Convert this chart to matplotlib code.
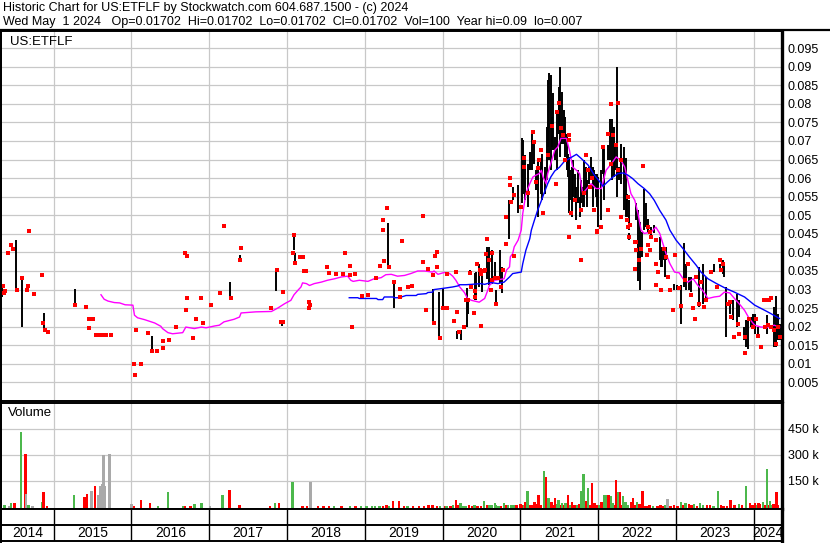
import matplotlib
matplotlib.use("Agg")
import matplotlib.pyplot as plt
from matplotlib.lines import Line2D

plt.rcParams['font.family'] = ['Liberation Sans', 'DejaVu Sans']

# ---------------- text ----------------
title_line1 = "Historic Chart for US:ETFLF by Stockwatch.com 604.687.1500 - (c) 2024"
title_line2 = "Wed May  1 2024   Op=0.01702  Hi=0.01702  Lo=0.01702  Cl=0.01702  Vol=100  Year hi=0.09  lo=0.007"
symbol = "US:ETFLF"
years = [2014, 2015, 2016, 2017, 2018, 2019, 2020, 2021, 2022, 2023, 2024]
x_start, x_end = 2014.325, 2024.361
price_ticks = [0.005, 0.01, 0.015, 0.02, 0.025, 0.03, 0.035, 0.04, 0.045, 0.05,
               0.055, 0.06, 0.065, 0.07, 0.075, 0.08, 0.085, 0.09, 0.095]
vol_ticks_k = [150, 300, 450]

# ---------------- daily high-low bars ----------------
bars_a_dates = [2014.34, 2014.52, 2014.59, 2014.69, 2014.88, 2015.27, 2016.26, 2017.27, 2017.39,
                2017.86, 2017.94, 2018.09, 2018.10, 2019.24, 2019.30, 2019.37, 2019.88, 2019.95]
bars_a_hi = [.0311, .0433, .0333, .0462, .0236, .0301, .0174, .0320, .0392,
             .0355, .0214, .0449, .0398, .0489, .0480, .0320, .0301, .0293]
bars_a_lo = [.0279, .0298, .0198, .0454, .0190, .0258, .0134, .0276, .0379,
             .0295, .0201, .0406, .0370, .0481, .0361, .0250, .0208, .0169]

bars_2020_dates = [2020.00, 2020.19, 2020.24, 2020.31, 2020.32, 2020.35, 2020.42, 2020.43, 2020.47,
                   2020.50, 2020.51, 2020.57, 2020.60, 2020.63, 2020.67, 2020.68, 2020.74, 2020.76,
                   2020.85, 2020.91, 2020.97]
bars_2020_hi = [.0305, .0188, .0192, .0305, .0276, .0352, .0345, .0347, .0370,
                .0343, .0352, .0415, .0415, .0406, .0374, .0298, .0406, .0361,
                .0540, .0576, .0581]
bars_2020_lo = [.0250, .0167, .0165, .0199, .0235, .0340, .0271, .0271, .0306,
                .0293, .0293, .0329, .0311, .0316, .0329, .0262, .0317, .0290,
                .0437, .0540, .0505]

bars_2021_dates = [2021.02, 2021.03, 2021.06, 2021.10, 2021.12, 2021.15, 2021.17, 2021.20, 2021.22, 2021.26,
                   2021.28, 2021.31, 2021.34, 2021.36, 2021.37, 2021.39, 2021.41, 2021.42, 2021.45, 2021.47,
                   2021.49, 2021.50, 2021.51, 2021.54, 2021.56, 2021.57, 2021.60, 2021.61, 2021.63, 2021.64,
                   2021.66, 2021.68, 2021.70, 2021.72, 2021.74, 2021.76, 2021.78, 2021.80, 2021.82, 2021.84,
                   2021.86, 2021.88, 2021.91, 2021.93, 2021.94, 2021.97, 2021.99]
bars_2021_hi = [.0707, .0702, .0662, .0639, .0671, .0724, .0702, .0621, .0648, .0648,
                .0666, .0630, .0738, .0864, .0882, .0877, .0765, .0828, .0711, .0774,
                .0801, .0846, .0900, .0832, .0783, .0765, .0720, .0666, .0657, .0621,
                .0630, .0648, .0612, .0576, .0621, .0549, .0594, .0576, .0648, .0630,
                .0594, .0630, .0657, .0630, .0621, .0612, .0612]
bars_2021_lo = [.0532, .0558, .0540, .0522, .0621, .0621, .0639, .0567, .0495, .0558,
                .0540, .0558, .0594, .0684, .0648, .0621, .0684, .0675, .0648, .0621,
                .0720, .0738, .0657, .0693, .0693, .0657, .0621, .0603, .0505, .0540,
                .0495, .0549, .0540, .0487, .0532, .0495, .0532, .0522, .0522, .0567,
                .0522, .0585, .0603, .0522, .0576, .0549, .0522]

bars_2022_dates = [2022.00, 2022.03, 2022.06, 2022.08, 2022.12, 2022.15, 2022.18, 2022.20, 2022.22, 2022.24,
                   2022.27, 2022.29, 2022.33, 2022.35, 2022.37, 2022.39, 2022.40, 2022.48, 2022.51, 2022.54,
                   2022.56, 2022.59, 2022.61, 2022.64, 2022.68, 2022.71, 2022.79, 2022.80, 2022.82, 2022.84,
                   2022.86, 2022.87, 2022.97]
bars_2022_hi = [.0603, .0621, .0684, .0684, .0689, .0760, .0760, .0738, .0693, .0900,
                .0630, .0693, .0684, .0653, .0558, .0540, .0451, .0532, .0513, .0482,
                .0455, .0572, .0532, .0491, .0468, .0473, .0442, .0406, .0415, .0415,
                .0415, .0415, .0316]
bars_2022_lo = [.0468, .0487, .0612, .0540, .0648, .0648, .0594, .0603, .0621, .0549,
                .0594, .0585, .0513, .0495, .0495, .0460, .0433, .0487, .0324, .0298,
                .0388, .0460, .0468, .0451, .0442, .0451, .0379, .0361, .0361, .0379,
                .0334, .0379, .0298]

bars_2023_dates = [2023.01, 2023.06, 2023.10, 2023.13, 2023.16, 2023.19, 2023.30, 2023.34, 2023.39, 2023.49,
                   2023.57, 2023.60, 2023.62, 2023.64, 2023.69, 2023.73, 2023.78, 2023.81, 2023.87, 2023.90,
                   2023.92, 2023.96, 2023.99, 2024.02, 2024.05, 2024.17, 2024.26, 2024.29, 2024.31, 2024.33]
bars_2023_hi = [.0311, .0311, .0424, .0370, .0334, .0334, .0361, .0370, .0334, .0370,
                .0370, .0379, .0374, .0307, .0271, .0271, .0289, .0271, .0199, .0217,
                .0226, .0226, .0235, .0235, .0199, .0231, .0253, .0283, .0235, .0208]
bars_2023_lo = [.0298, .0208, .0307, .0298, .0298, .0293, .0253, .0262, .0271, .0347,
                .0347, .0343, .0334, .0172, .0235, .0217, .0199, .0226, .0163, .0145,
                .0141, .0199, .0199, .0181, .0172, .0181, .0145, .0145, .0163, .0163]

# ---------------- closing prices (red dots) ----------------
close_a_dates = [2014.34, 2014.35, 2014.36, 2014.38, 2014.41, 2014.45, 2014.48, 2014.53, 2014.59, 2014.66,
                 2014.67, 2014.69, 2014.75, 2014.85, 2014.87, 2014.89, 2014.93, 2015.28, 2015.42, 2015.46,
                 2015.46, 2015.51, 2015.55, 2015.60, 2015.62, 2015.65, 2015.67, 2015.74]
close_a_vals = [.0292, .0309, .0291, .0296, .0398, .0420, .0409, .0298, .0331, .0298,
                .0310, .0458, .0287, .0338, .0210, .0190, .0187, .0258, .0252, .0222,
                .0196, .0222, .0179, .0179, .0179, .0179, .0179, .0179]

close_b_dates = [2016.04, 2016.05, 2016.06, 2016.13, 2016.21, 2016.27, 2016.33, 2016.41, 2016.41, 2016.48,
                 2016.57, 2016.69, 2016.70, 2016.71, 2016.71, 2016.79, 2016.83, 2016.90, 2016.92, 2017.02,
                 2017.14, 2017.19, 2017.28, 2017.40, 2017.41, 2017.80, 2017.87, 2017.92, 2017.95, 2017.95]
close_b_vals = [.0099, .0070, .0190, .0099, .0183, .0134, .0134, .0142, .0161, .0163,
                .0198, .0398, .0244, .0390, .0276, .0169, .0221, .0276, .0210, .0258,
                .0290, .0471, .0276, .0379, .0411, .0250, .0352, .0213, .0213, .0293]

close_c_dates = [2018.08, 2018.09, 2018.10, 2018.17, 2018.20, 2018.22, 2018.25, 2018.28, 2018.28, 2018.30,
                 2018.52, 2018.54, 2018.63, 2018.72, 2018.75, 2018.81, 2018.81, 2018.83, 2018.88, 2018.96,
                 2019.04, 2019.15, 2019.20, 2019.24, 2019.24, 2019.25, 2019.29, 2019.31, 2019.37, 2019.45,
                 2019.45, 2019.48, 2019.55, 2019.61, 2019.75, 2019.75, 2019.79, 2019.81, 2019.88, 2019.89,
                 2019.90, 2019.93, 2019.93, 2019.96]
close_c_vals = [.0398, .0447, .0371, .0388, .0388, .0349, .0350, .0266, .0250, .0258,
                .0361, .0345, .0341, .0341, .0398, .0363, .0339, .0199, .0341, .0283,
                .0285, .0330, .0363, .0487, .0460, .0376, .0519, .0361, .0320, .0280,
                .0301, .0430, .0306, .0309, .0498, .0374, .0244, .0355, .0338, .0210,
                .0390, .0401, .0360, .0169]

close_d_dates = [2020.01, 2020.05, 2020.05, 2020.14, 2020.17, 2020.18, 2020.21, 2020.28, 2020.30, 2020.33,
                 2020.35, 2020.37, 2020.40, 2020.42, 2020.42, 2020.44, 2020.48, 2020.49, 2020.49, 2020.53,
                 2020.54, 2020.56, 2020.57, 2020.60, 2020.62, 2020.63, 2020.64, 2020.67, 2020.69, 2020.71,
                 2020.75, 2020.78, 2020.82, 2020.82, 2020.86, 2020.87, 2020.88, 2020.92, 2020.92]
close_d_vals = [.0250, .0250, .0343, .0215, .0346, .0239, .0185, .0199, .0271, .0271,
                .0345, .0307, .0237, .0280, .0297, .0368, .0352, .0341, .0202, .0350,
                .0353, .0397, .0436, .0379, .0300, .0398, .0325, .0331, .0261, .0331,
                .0307, .0353, .0422, .0495, .0581, .0599, .0536, .0554, .0390]

close_e_dates = [2021.01, 2021.05, 2021.05, 2021.16, 2021.17, 2021.20, 2021.22, 2021.24, 2021.26, 2021.29,
                 2021.46, 2021.47, 2021.50, 2021.52, 2021.55, 2021.57, 2021.62, 2021.63, 2021.63, 2021.65,
                 2021.75, 2021.78, 2021.78, 2021.84, 2021.87, 2021.89, 2021.95, 2021.99, 2021.99,
                 2021.35, 2021.10, 2021.40, 2021.70, 2021.92, 2021.82]
close_e_vals = [.0522, .0653, .0630, .0724, .0697, .0590, .0626, .0648, .0675, .0505,
                .0585, .0778, .0801, .0734, .0716, .0648, .0716, .0702, .0442, .0505,
                .0468, .0513, .0379, .0662, .0621, .0576, .0513, .0455, .0458,
                .0662, .0560, .0740, .0540, .0600, .0560]

close_f_dates = [2022.04, 2022.06, 2022.12, 2022.12, 2022.17, 2022.17, 2022.19, 2022.23, 2022.25, 2022.25,
                 2022.29, 2022.29, 2022.37, 2022.38, 2022.38, 2022.40, 2022.41, 2022.47, 2022.47, 2022.49,
                 2022.49, 2022.52, 2022.55, 2022.57, 2022.62, 2022.64, 2022.64, 2022.66, 2022.66, 2022.68,
                 2022.74, 2022.74, 2022.74, 2022.77, 2022.81, 2022.85, 2022.87, 2022.89, 2022.92, 2022.96,
                 2022.98]
close_f_vals = [.0468, .0684, .0720, .0515, .0799, .0639, .0716, .0689, .0801, .0621,
                .0648, .0495, .0487, .0549, .0468, .0442, .0473, .0428, .0356, .0428,
                .0406, .0379, .0410, .0632, .0392, .0419, .0468, .0406, .0455, .0442,
                .0433, .0370, .0311, .0347, .0298, .0410, .0388, .0334, .0298, .0244,
                .0392]

close_g_dates = [2023.04, 2023.06, 2023.11, 2023.15, 2023.19, 2023.22, 2023.24, 2023.26, 2023.30, 2023.32,
                 2023.36, 2023.39, 2023.45, 2023.52, 2023.56, 2023.58, 2023.60, 2023.67, 2023.69, 2023.71,
                 2023.75, 2023.79, 2023.81, 2023.88, 2023.89, 2023.94, 2023.99, 2024.03, 2024.05, 2024.09,
                 2024.13, 2024.14, 2024.16, 2024.18, 2024.20, 2024.22, 2024.22, 2024.26, 2024.29, 2024.31,
                 2024.33]
close_g_vals = [.0303, .0255, .0325, .0370, .0284, .0250, .0222, .0334, .0262, .0320,
                .0253, .0271, .0347, .0307, .0379, .0352, .0370, .0262, .0266, .0226,
                .0172, .0208, .0181, .0172, .0129, .0222, .0199, .0222, .0174, .0145,
                .0273, .0199, .0271, .0204, .0273, .0199, .0276, .0190, .0154, .0199,
                .0172]

# ---------------- moving averages ----------------
ma_short_dates = [2015.61, 2015.65, 2015.70, 2015.78, 2015.85, 2015.92, 2016.02, 2016.04, 2016.08, 2016.17,
                  2016.30, 2016.38, 2016.40, 2016.47, 2016.53, 2016.66, 2016.70, 2016.81, 2016.90, 2016.96,
                  2017.07, 2017.13, 2017.19, 2017.32, 2017.39, 2017.41, 2017.60, 2017.80, 2017.88, 2017.97,
                  2018.05, 2018.09, 2018.14, 2018.18, 2018.20, 2018.25, 2018.29, 2018.35, 2018.44, 2018.52,
                  2018.61, 2018.70, 2018.78, 2018.82, 2018.85, 2018.93, 2019.04, 2019.12, 2019.21, 2019.27,
                  2019.34, 2019.42, 2019.51, 2019.59, 2019.68, 2019.77, 2019.87, 2019.89, 2019.94, 2020.02,
                  2020.09, 2020.13, 2020.17, 2020.22, 2020.28, 2020.32, 2020.37, 2020.47, 2020.54, 2020.58,
                  2020.60, 2020.67, 2020.79, 2020.82, 2020.86, 2020.87, 2020.90, 2020.92, 2020.97, 2021.01,
                  2021.03, 2021.07, 2021.12, 2021.16, 2021.20, 2021.24, 2021.27, 2021.29, 2021.33, 2021.35,
                  2021.39, 2021.44, 2021.48, 2021.52, 2021.59, 2021.63, 2021.67, 2021.72, 2021.76, 2021.80,
                  2021.87, 2021.91, 2021.97, 2022.04, 2022.10, 2022.17, 2022.23, 2022.29, 2022.34, 2022.38,
                  2022.42, 2022.47, 2022.51, 2022.55, 2022.59, 2022.68, 2022.74, 2022.79, 2022.83, 2022.87,
                  2022.92, 2022.98, 2023.04, 2023.09, 2023.15, 2023.22, 2023.28, 2023.34, 2023.41, 2023.49,
                  2023.56, 2023.62, 2023.69, 2023.75, 2023.81, 2023.88, 2023.94, 2024.01, 2024.09, 2024.18,
                  2024.26, 2024.33]
ma_short_vals = [.0286, .0274, .0269, .0265, .0264, .0259, .0258, .0231, .0224, .0219,
                 .0210, .0201, .0195, .0184, .0181, .0184, .0199, .0195, .0199, .0197,
                 .0202, .0204, .0213, .0220, .0226, .0237, .0240, .0241, .0250, .0262,
                 .0271, .0286, .0298, .0307, .0318, .0316, .0311, .0316, .0320, .0325,
                 .0329, .0334, .0336, .0325, .0322, .0325, .0322, .0329, .0332, .0340,
                 .0341, .0336, .0338, .0343, .0350, .0350, .0347, .0350, .0341, .0346,
                 .0343, .0336, .0325, .0307, .0292, .0276, .0271, .0266, .0276, .0298,
                 .0311, .0325, .0329, .0352, .0361, .0388, .0397, .0415, .0433, .0460,
                 .0505, .0558, .0585, .0603, .0608, .0612, .0621, .0603, .0585, .0612,
                 .0639, .0675, .0684, .0707, .0707, .0675, .0630, .0621, .0612, .0558,
                 .0576, .0585, .0572, .0572, .0621, .0639, .0657, .0648, .0630, .0594,
                 .0558, .0540, .0505, .0460, .0451, .0455, .0468, .0451, .0424, .0397,
                 .0370, .0347, .0345, .0329, .0320, .0329, .0311, .0298, .0276, .0280,
                 .0282, .0293, .0291, .0276, .0262, .0244, .0222, .0204, .0199, .0199,
                 .0204, .0199]

ma_long_dates = [2018.80, 2018.91, 2018.93, 2019.15, 2019.17, 2019.23, 2019.25, 2019.36, 2019.38, 2019.44,
                 2019.53, 2019.66, 2019.68, 2019.79, 2019.81, 2019.87, 2019.89, 2020.00, 2020.13, 2020.20,
                 2020.22, 2020.30, 2020.37, 2020.49, 2020.54, 2020.62, 2020.71, 2020.79, 2020.86, 2020.90,
                 2021.01, 2021.03, 2021.07, 2021.12, 2021.14, 2021.18, 2021.22, 2021.27, 2021.31, 2021.35,
                 2021.39, 2021.44, 2021.50, 2021.56, 2021.63, 2021.72, 2021.78, 2021.87, 2021.95, 2022.02,
                 2022.06, 2022.12, 2022.19, 2022.25, 2022.32, 2022.38, 2022.44, 2022.51, 2022.59, 2022.66,
                 2022.72, 2022.79, 2022.87, 2022.92, 2023.00, 2023.09, 2023.17, 2023.26, 2023.32, 2023.41,
                 2023.52, 2023.64, 2023.75, 2023.88, 2024.01, 2024.14, 2024.22, 2024.33]
ma_long_vals = [.0278, .0278, .0276, .0276, .0273, .0273, .0280, .0280, .0278, .0278,
                .0284, .0284, .0287, .0289, .0292, .0293, .0300, .0303, .0307, .0310,
                .0313, .0313, .0314, .0316, .0314, .0319, .0316, .0320, .0334, .0343,
                .0347, .0370, .0406, .0437, .0460, .0487, .0513, .0540, .0563, .0585,
                .0603, .0619, .0629, .0644, .0653, .0664, .0653, .0635, .0608, .0590,
                .0578, .0590, .0603, .0612, .0614, .0608, .0599, .0585, .0572, .0558,
                .0540, .0513, .0487, .0460, .0433, .0410, .0388, .0365, .0347, .0329,
                .0316, .0303, .0293, .0280, .0258, .0244, .0235, .0222]

# ---------------- volume (thousands of shares; g=up, r=down, n=unchanged) ----------------
vol_dates = [2014.36, 2014.38, 2014.43, 2014.45, 2014.50, 2014.58, 2014.64, 2014.65, 2014.68, 2014.73,
             2014.85, 2014.87, 2014.92, 2015.26, 2015.40, 2015.43, 2015.49, 2015.53, 2015.58, 2015.60,
             2015.62, 2015.64, 2015.66, 2015.72, 2016.00, 2016.03, 2016.12, 2016.24, 2016.34, 2016.47,
             2016.67, 2016.69, 2016.76, 2016.81, 2016.90, 2017.01, 2017.17, 2017.26, 2017.39, 2017.78,
             2017.85, 2017.90, 2018.07, 2018.20, 2018.26, 2018.30, 2018.47, 2018.54, 2018.81, 2018.95,
             2019.09, 2019.13, 2019.19, 2019.23, 2019.36, 2019.44, 2019.76, 2019.87, 2019.93, 2020.05,
             2020.10, 2020.17, 2020.23, 2020.30, 2020.38, 2020.45, 2020.53, 2020.63, 2020.67, 2020.72,
             2020.79, 2020.84, 2020.91, 2021.02, 2021.06, 2021.09, 2021.14, 2021.18, 2021.23, 2021.30,
             2021.33, 2021.36, 2021.40, 2021.44, 2021.49, 2021.53, 2021.58, 2021.61, 2021.66, 2021.70,
             2021.78, 2021.81, 2021.84, 2021.87, 2021.92, 2021.95, 2022.04, 2022.08, 2022.10, 2022.13,
             2022.16, 2022.19, 2022.23, 2022.25, 2022.28, 2022.32, 2022.35, 2022.42, 2022.45, 2022.50,
             2022.53, 2022.57, 2022.62, 2022.76, 2022.83, 2022.89, 2022.93, 2023.06, 2023.12, 2023.17,
             2023.23, 2023.31, 2023.44, 2023.54, 2023.61, 2023.70, 2023.81, 2023.90, 2023.95, 2024.01,
             2024.06, 2024.12, 2024.17, 2024.21, 2024.25, 2024.29]
vol_k = [8, 8, 2, 17, 21, 431, 302, 71, 8, 2,
         23, 85, 2, 65, 54, 71, 88, 119, 65, 119,
         131, 296, 119, 302, 12, 2, 37, 17, 2, 83,
         2, 2, 2, 12, 17, 2, 65, 94, 8, 2,
         19, 19, 140, 2, 2, 140, 3, 3, 2, 2,
         4, 2, 2, 4, 31, 31, 2, 8, 2, 2,
         2, 37, 17, 2, 2, 2, 31, 8, 17, 2,
         17, 6, 8, 8, 27, 92, 8, 23, 65, 204,
         171, 46, 27, 46, 35, 21, 17, 65, 27, 8,
         92, 187, 31, 104, 138, 17, 27, 65, 67, 67,
         62, 21, 152, 85, 85, 62, 23, 23, 46, 27,
         13, 90, 2, 2, 2, 42, 4, 27, 17, 12,
         12, 21, 8, 88, 2, 37, 12, 119, 17, 17,
         17, 27, 215, 31, 12, 83]
vol_dir = ['g', 'g', 'n', 'g', 'r', 'g', 'r', 'n', 'g', 'n',
           'g', 'r', 'r', 'g', 'r', 'r', 'n', 'r', 'n', 'n',
           'n', 'n', 'n', 'n', 'n', 'r', 'r', 'r', 'g', 'g',
           'g', 'r', 'r', 'g', 'g', 'n', 'g', 'r', 'r', 'r',
           'g', 'r', 'g', 'r', 'r', 'n', 'r', 'r', 'g', 'g',
           'g', 'g', 'g', 'r', 'r', 'r', 'r', 'r', 'r', 'g',
           'r', 'r', 'g', 'g', 'r', 'r', 'g', 'g', 'g', 'g',
           'g', 'g', 'g', 'r', 'r', 'g', 'r', 'r', 'r', 'g',
           'r', 'g', 'r', 'r', 'g', 'g', 'g', 'r', 'r', 'r',
           'g', 'g', 'r', 'g', 'r', 'r', 'r', 'g', 'g', 'r',
           'g', 'g', 'r', 'g', 'r', 'g', 'g', 'r', 'r', 'g',
           'r', 'r', 'r', 'r', 'r', 'n', 'r', 'g', 'g', 'r',
           'g', 'g', 'r', 'g', 'r', 'r', 'g', 'g', 'r', 'r',
           'r', 'g', 'g', 'g', 'r', 'r']

vol_small_dates = [2018.40, 2018.60, 2018.70, 2018.88, 2019.02, 2019.28, 2019.31, 2019.50, 2019.55, 2019.62,
                   2019.70, 2019.82, 2019.97, 2020.03, 2020.13, 2020.20, 2020.27, 2020.34, 2020.41, 2020.49,
                   2020.57, 2020.60, 2020.69, 2020.75, 2020.82, 2020.88, 2020.95, 2021.00, 2021.04, 2021.11,
                   2021.16, 2021.21, 2021.26, 2021.38, 2021.42, 2021.47, 2021.51, 2021.55, 2021.63, 2021.68,
                   2021.73, 2021.75, 2021.89, 2021.98, 2022.01, 2022.06, 2022.12, 2022.21, 2022.30, 2022.38,
                   2022.48, 2022.60, 2022.66, 2022.70, 2022.80, 2022.86, 2022.97, 2023.02, 2023.09, 2023.20,
                   2023.27, 2023.35, 2023.40, 2023.48, 2023.58, 2023.65, 2023.75, 2023.85, 2023.98, 2024.04,
                   2024.08, 2024.14, 2024.19, 2024.23, 2024.27, 2024.31]
vol_small_k = [3, 2, 3, 2, 3, 5, 3, 4, 2, 3,
               4, 6, 3, 4, 6, 5, 4, 6, 5, 4,
               6, 5, 9, 4, 6, 5, 8, 12, 6, 10,
               7, 12, 6, 10, 8, 12, 9, 6, 8, 10,
               5, 12, 8, 6, 10, 12, 8, 10, 8, 6,
               5, 4, 6, 4, 5, 6, 5, 4, 8, 6,
               4, 6, 5, 4, 6, 4, 8, 5, 10, 8,
               12, 6, 10, 6, 12, 6]
vol_small_dir = ['r', 'g', 'r', 'r', 'g', 'r', 'g', 'r', 'g', 'r',
                 'r', 'r', 'g', 'r', 'g', 'r', 'g', 'r', 'g', 'r',
                 'r', 'g', 'g', 'r', 'r', 'g', 'r', 'r', 'g', 'r',
                 'g', 'r', 'r', 'g', 'r', 'g', 'r', 'r', 'g', 'r',
                 'g', 'r', 'r', 'r', 'g', 'r', 'r', 'r', 'r', 'g',
                 'r', 'r', 'r', 'g', 'r', 'g', 'r', 'r', 'r', 'r',
                 'r', 'g', 'r', 'g', 'r', 'r', 'r', 'r', 'r', 'g',
                 'r', 'r', 'r', 'g', 'r', 'r']

# ---------------- drawing ----------------
W, H = 830, 543
fig = plt.figure(figsize=(W / 100, H / 100), dpi=100)
fig.patch.set_facecolor('white')


def rect(x0, y0, x1, y1):
    return [x0 / W, 1 - y1 / H, (x1 - x0) / W, (y1 - y0) / H]


ax_p = fig.add_axes(rect(1, 31, 782, 401))
ax_v = fig.add_axes(rect(1, 403, 782, 509))
ax_x = fig.add_axes(rect(1, 509, 782, 541))

grid_c = '#c8c8c8'
boundaries = years[1:]

for ax in (ax_p, ax_v, ax_x):
    ax.set_xlim(x_start, x_end)
    for s in ax.spines.values():
        s.set_linewidth(1.4)
        s.set_color('black')
    ax.spines['right'].set_linewidth(2.4)
    ax.set_xticks(boundaries)
    ax.set_xticklabels([])
    ax.tick_params(axis='both', length=0)

# price panel
ax_p.set_ylim(0, 0.0996)
ax_p.set_yticks(price_ticks)
ax_p.set_yticklabels(['%g' % t for t in price_ticks])
ax_p.yaxis.tick_right()
ax_p.tick_params(axis='y', labelsize=9, pad=4, length=0)
ax_p.grid(True, color=grid_c, lw=0.9, zorder=0)
ax_p.set_axisbelow(True)

bar_dates = bars_a_dates + bars_2020_dates + bars_2021_dates + bars_2022_dates + bars_2023_dates
bar_hi = bars_a_hi + bars_2020_hi + bars_2021_hi + bars_2022_hi + bars_2023_hi
bar_lo = bars_a_lo + bars_2020_lo + bars_2021_lo + bars_2022_lo + bars_2023_lo
ax_p.vlines(bar_dates, bar_lo, bar_hi, colors='black', lw=1.4, zorder=2)

ax_p.plot(ma_short_dates, ma_short_vals, color='#ff00ff', lw=1.0, zorder=3)
ax_p.plot(ma_long_dates, ma_long_vals, color='#0000ff', lw=1.0, zorder=3)

c_dates = close_a_dates + close_b_dates + close_c_dates + close_d_dates + close_e_dates + close_f_dates + close_g_dates
c_vals = close_a_vals + close_b_vals + close_c_vals + close_d_vals + close_e_vals + close_f_vals + close_g_vals
ax_p.plot(c_dates, c_vals, ls='none', marker='s', ms=2.25, mew=0, color='#ff0000',
          antialiased=False, zorder=4)

ax_p.text(0.011, 0.969, symbol, transform=ax_p.transAxes, fontsize=9.5, ha='left', va='center')

# volume panel
vol_floor = -15600
ax_v.set_ylim(vol_floor, 601000)
ax_v.set_yticks([v * 1000 for v in vol_ticks_k])
ax_v.set_yticklabels(['%d k' % v for v in vol_ticks_k])
ax_v.yaxis.tick_right()
ax_v.tick_params(axis='y', labelsize=9, pad=4, length=0)
ax_v.grid(True, color=grid_c, lw=0.9, zorder=0)
ax_v.set_axisbelow(True)
col_map = {'g': '#4cb84c', 'r': '#ff0000', 'n': '#a9a9a9'}
all_vd = vol_small_dates + vol_dates
all_vk = vol_small_k + vol_k
all_dir = vol_small_dir + vol_dir
ax_v.bar(all_vd, [k * 1000 - vol_floor for k in all_vk], bottom=vol_floor, width=0.03,
         color=[col_map[d] for d in all_dir], lw=0, antialiased=False, zorder=2)
ax_v.text(0.009, 0.905, "Volume", transform=ax_v.transAxes, fontsize=9.5, ha='left', va='center')

# year strip
ax_x.set_ylim(0, 1)
ax_x.set_yticks([])
ax_x.vlines(boundaries, 0, 1, colors='black', lw=1.0)
ax_x.axhline(0.5, color='black', lw=1.4)
for y in years:
    a = max(y, x_start)
    b = min(y + 1, x_end)
    ax_x.text((a + b) / 2, 0.24, str(y), ha='center', va='center', fontsize=10)

# header
fig.text(3 / W, 1 - 8 / H, title_line1, fontsize=9, ha='left', va='center')
fig.text(3 / W, 1 - 22 / H, title_line2, fontsize=9, ha='left', va='center')
fig.add_artist(Line2D([0, 1], [1 - 30 / H, 1 - 30 / H], color='black', lw=1.6))
fig.add_artist(Line2D([0.6 / W, 0.6 / W], [0, 1 - 30 / H], color='black', lw=1.4))

fig.savefig('out.png', dpi=100, facecolor='white')
